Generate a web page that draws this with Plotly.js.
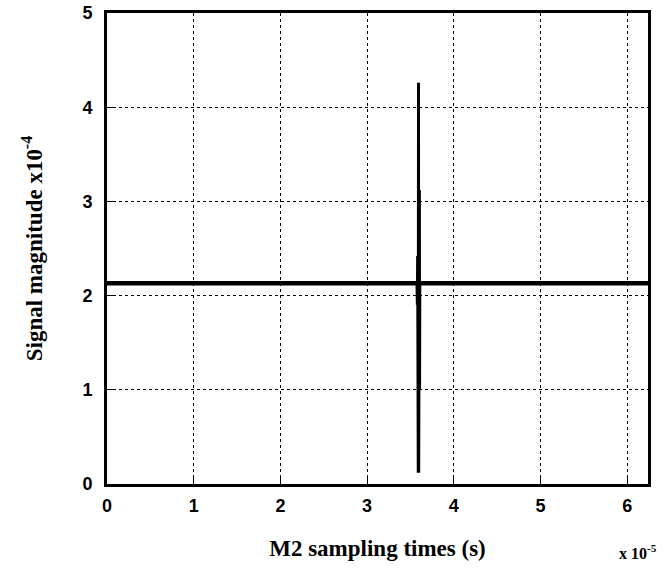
<!DOCTYPE html>
<html><head><meta charset="utf-8">
<script src="https://cdn.plot.ly/plotly-3.0.1.min.js"></script>
<style>html,body{margin:0;padding:0;background:#fff;}#chart{width:664px;height:575px;}</style>
</head><body><div id="chart"></div>
<script>
// time in units of 1e-5 s, magnitude in units of 1e-4
const baseTimes = [0, 6.24];
const baseValues = [2.13, 2.13];
const spikeTimes = [3.575, 3.578, 3.580, 3.583, 3.585, 3.588, 3.590, 3.593, 3.595, 3.598, 3.600, 3.603, 3.605, 3.608];
const spikeValues = [2.13, 2.42, 1.90, 2.42, 1.90, 4.26, 0.12, 4.26, 0.12, 3.12, 1.00, 3.12, 1.00, 2.13];
const xTicks = [0, 1, 2, 3, 4, 5, 6];
const yTicks = [0, 1, 2, 3, 4, 5];

const traces = [
  {x: baseTimes, y: baseValues, mode: 'lines', line: {color: '#000', width: 4.5}, hoverinfo: 'skip'},
  {x: spikeTimes, y: spikeValues, mode: 'lines', line: {color: '#000', width: 3}, hoverinfo: 'skip'}
];
const tickFont = {family: 'Liberation Sans, Arial, sans-serif', size: 18, color: '#000', weight: 'bold'};
const titleFont = {family: 'Liberation Serif, Times New Roman, serif', size: 23, color: '#000', weight: 'bold'};
const layout = {
  width: 664, height: 575,
  margin: {l: 107, r: 16, t: 13, b: 91},
  paper_bgcolor: '#fff', plot_bgcolor: '#fff',
  showlegend: false,
  xaxis: {
    range: [0, 6.24], tickvals: xTicks, ticktext: xTicks.map(String),
    showgrid: true, gridcolor: '#000', gridwidth: 1, griddash: 'dot',
    zeroline: false, showline: true, linecolor: '#000', linewidth: 3, mirror: true,
    ticks: 'inside', ticklen: 6, tickcolor: '#000', tickwidth: 1,
    tickfont: tickFont, ticklabelstandoff: 3,
    title: {text: 'M2 sampling times (s)', font: titleFont, standoff: 26}
  },
  yaxis: {
    range: [0, 5], tickvals: yTicks, ticktext: yTicks.map(String),
    showgrid: true, gridcolor: '#000', gridwidth: 1, griddash: 'dot',
    zeroline: false, showline: true, linecolor: '#000', linewidth: 3, mirror: true,
    ticks: 'inside', ticklen: 6, tickcolor: '#000', tickwidth: 1,
    tickfont: tickFont, ticklabelstandoff: 8,
    title: {text: 'Signal magnitude x10<sup>-4</sup>', font: titleFont, standoff: 34}
  },
  annotations: [{
    xref: 'paper', yref: 'paper', x: 1.02, y: -0.145, xanchor: 'right', yanchor: 'middle',
    text: 'x 10<sup>-5</sup>', showarrow: false,
    font: {family: 'Liberation Serif, Times New Roman, serif', size: 16, color: '#000', weight: 'bold'}
  }]
};
Plotly.newPlot('chart', traces, layout, {displayModeBar: false, staticPlot: true});
</script></body></html>
